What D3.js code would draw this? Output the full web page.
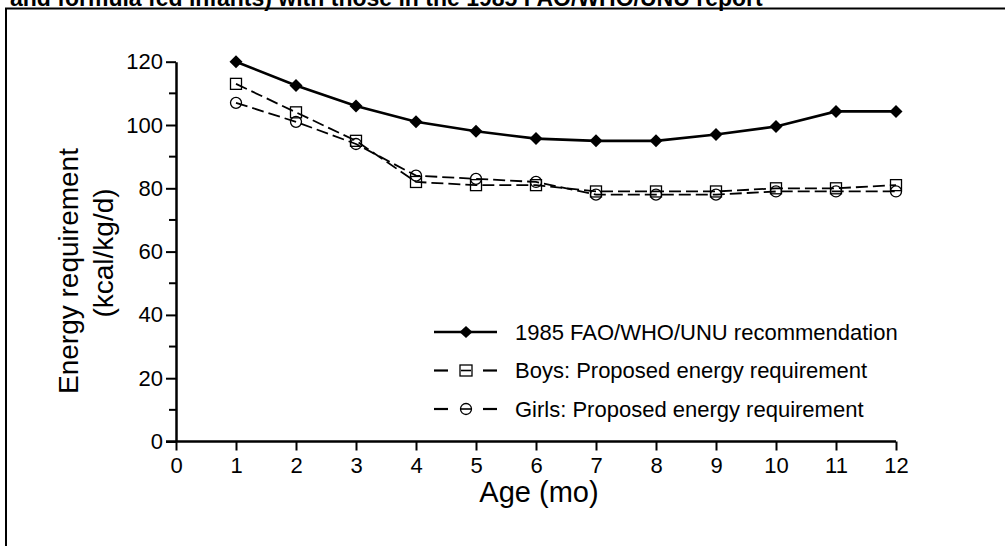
<!DOCTYPE html>
<html>
<head>
<meta charset="utf-8">
<script src="https://cdn.jsdelivr.net/npm/d3@7"></script>
<style>
  html, body { margin: 0; padding: 0; background: #fff; }
  svg { display: block; font-family: "Liberation Sans", Arial, sans-serif; }
</style>
</head>
<body>
<svg id="chart" width="1005" height="546"></svg>
<script>
// ---- data ----
const ages = [1, 2, 3, 4, 5, 6, 7, 8, 9, 10, 11, 12];
const fao1985 = [120, 112.5, 106, 101, 98, 95.7, 95, 95, 97, 99.5, 104.3, 104.3];
const boys = [113, 104, 95, 82, 81, 81, 79, 79, 79, 80, 80, 81];
const girls = [107, 101, 94, 84, 83, 82, 78, 78, 78, 79, 79, 79];
const xTicks = [0, 1, 2, 3, 4, 5, 6, 7, 8, 9, 10, 11, 12];
const yTicks = [0, 20, 40, 60, 80, 100, 120];
const yMinorTicks = [10, 30, 50, 70, 90, 110];
const seriesNames = ["1985 FAO/WHO/UNU recommendation", "Boys: Proposed energy requirement", "Girls: Proposed energy requirement"];
const titleText = "and formula fed infants) with those in the 1985 FAO/WHO/UNU report";
const xTitle = "Age (mo)";
const yTitle = ["Energy requirement", "(kcal/kg/d)"];

// ---- drawing ----
const FONT = '"Liberation Sans", Arial, sans-serif';
const svg = d3.select("#chart");
svg.append("rect").attr("width", 1005).attr("height", 546).attr("fill", "#fff");

// clipped title (partly above the top edge, as in the source)
svg.append("text").attr("x", 10).attr("y", 6)
  .attr("font-weight", "bold").attr("font-size", 23).attr("fill", "#000")
  .text(titleText);

// frame (top and left)
svg.append("path").attr("d", "M6,546 V8.5 H1005")
  .attr("fill", "none").attr("stroke", "#000").attr("stroke-width", 2);

const x = d3.scaleLinear().domain([0, 12]).range([176, 896]);
const y = d3.scaleLinear().domain([0, 120]).range([441.5, 61.7]);

// x axis
const xAxis = d3.axisBottom(x).tickValues(xTicks).tickSize(9).tickPadding(7).tickSizeOuter(0)
  .tickFormat(d3.format("d"));
const gx = svg.append("g").attr("transform", `translate(0,${y(0)})`).call(xAxis)
  .attr("font-family", FONT).attr("font-size", 22);
gx.select(".domain").attr("stroke-width", 2.5).attr("d", `M${x(0) - 10},0H${x(12)}`);
gx.selectAll(".tick line").attr("stroke-width", 2);
gx.selectAll(".tick text").attr("fill", "#000");

// y axis
const yAxis = d3.axisLeft(y).tickValues(yTicks).tickSize(10).tickPadding(3).tickSizeOuter(0)
  .tickFormat(d3.format("d"));
const gy = svg.append("g").attr("transform", `translate(${x(0)},0)`).call(yAxis)
  .attr("font-family", FONT).attr("font-size", 22);
gy.select(".domain").attr("stroke-width", 2.5);
gy.selectAll(".tick line").attr("stroke-width", 2);
gy.selectAll(".tick text").attr("fill", "#000");
gy.selectAll(".minor").data(yMinorTicks).enter().append("line")
  .attr("class", "minor")
  .attr("x1", -7).attr("x2", 0)
  .attr("y1", d => y(d)).attr("y2", d => y(d))
  .attr("stroke", "#000").attr("stroke-width", 2);

// axis titles
svg.append("text").attr("x", x(6) + 3).attr("y", 502)
  .attr("text-anchor", "middle").attr("font-size", 29).attr("fill", "#000").text(xTitle);
svg.append("text").attr("transform", "translate(78,271) rotate(-90)")
  .attr("text-anchor", "middle").attr("font-size", 28).attr("fill", "#000").text(yTitle[0]);
svg.append("text").attr("transform", "translate(113,253) rotate(-90)")
  .attr("text-anchor", "middle").attr("font-size", 28).attr("fill", "#000").text(yTitle[1]);

// lines
const line = d3.line().x(d => x(d[0])).y(d => y(d[1]));
const zip = vals => ages.map((a, i) => [a, vals[i]]);

svg.append("path").datum(zip(boys)).attr("d", line)
  .attr("fill", "none").attr("stroke", "#000").attr("stroke-width", 1.8).attr("stroke-dasharray", "12,5");
svg.append("path").datum(zip(girls)).attr("d", line)
  .attr("fill", "none").attr("stroke", "#000").attr("stroke-width", 1.8).attr("stroke-dasharray", "12,5");
svg.append("path").datum(zip(fao1985)).attr("d", line)
  .attr("fill", "none").attr("stroke", "#000").attr("stroke-width", 2.6);

// markers
const sq = 11, cr = 5.5;
const diamondPath = (cx, cy, w, h) => `M${cx},${cy - h / 2}L${cx + w / 2},${cy}L${cx},${cy + h / 2}L${cx - w / 2},${cy}Z`;

svg.append("g").selectAll("rect").data(zip(boys)).enter().append("rect")
  .attr("x", d => x(d[0]) - sq / 2).attr("y", d => y(d[1]) - sq / 2)
  .attr("width", sq).attr("height", sq)
  .attr("fill", "none").attr("stroke", "#000").attr("stroke-width", 1.3);
svg.append("g").selectAll("circle").data(zip(girls)).enter().append("circle")
  .attr("cx", d => x(d[0])).attr("cy", d => y(d[1])).attr("r", cr)
  .attr("fill", "none").attr("stroke", "#000").attr("stroke-width", 1.3);
svg.append("g").selectAll("path").data(zip(fao1985)).enter().append("path")
  .attr("d", d => diamondPath(x(d[0]), y(d[1]), 13, 13))
  .attr("fill", "#000");

// legend
const legY = [332, 370.5, 409];
const lx0 = 434, lx1 = 497, lxm = 466, ltx = 515;
const leg = svg.append("g");
// row 1
leg.append("line").attr("x1", lx0).attr("x2", lx1).attr("y1", legY[0]).attr("y2", legY[0])
  .attr("stroke", "#000").attr("stroke-width", 2.6);
leg.append("path").attr("d", diamondPath(lxm, legY[0], 13, 12)).attr("fill", "#000");
// rows 2-3 dashed
[1, 2].forEach(i => {
  leg.append("line").attr("x1", lx0).attr("x2", lx0 + 14).attr("y1", legY[i]).attr("y2", legY[i])
    .attr("stroke", "#000").attr("stroke-width", 2.2);
  leg.append("line").attr("x1", lx1 - 14).attr("x2", lx1).attr("y1", legY[i]).attr("y2", legY[i])
    .attr("stroke", "#000").attr("stroke-width", 2.2);
  leg.append("line").attr("x1", lxm - 5).attr("x2", lxm + 5).attr("y1", legY[i]).attr("y2", legY[i])
    .attr("stroke", "#000").attr("stroke-width", 1.6);
});
leg.append("rect").attr("x", lxm - 6).attr("y", legY[1] - 5.5).attr("width", 12).attr("height", 11)
  .attr("fill", "none").attr("stroke", "#000").attr("stroke-width", 1.3);
leg.append("circle").attr("cx", lxm).attr("cy", legY[2]).attr("r", 5.5)
  .attr("fill", "none").attr("stroke", "#000").attr("stroke-width", 1.3);
legY.forEach((ly, i) => {
  leg.append("text").attr("x", ltx).attr("y", ly + 7.5)
    .attr("font-size", 22).attr("fill", "#000").text(seriesNames[i]);
});
</script>
</body>
</html>
